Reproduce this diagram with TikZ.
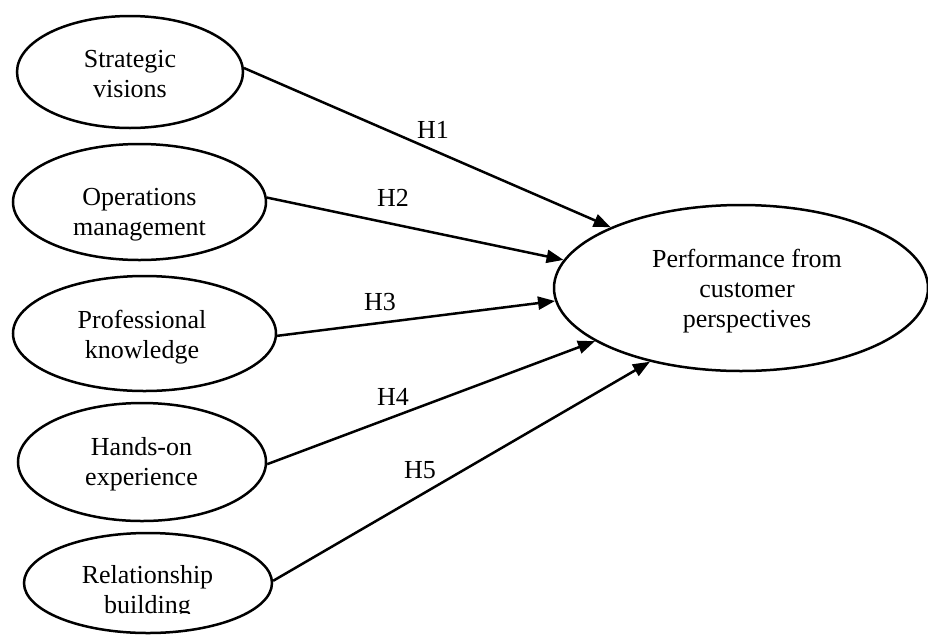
\documentclass[tikz,border=0pt]{standalone}
\usepackage{fontspec}
\setmainfont{Liberation Serif}
\usetikzlibrary{arrows.meta,shapes.geometric}
\begin{document}
\begin{tikzpicture}[x=1pt,y=-1pt,
  latent/.style={ellipse, draw, line width=2.5pt, inner sep=0pt},
  lbl/.style={align=center, inner sep=0pt, font=\fontsize{26}{30}\selectfont},
  hyp/.style={inner sep=0pt, font=\fontsize{26}{30}\selectfont},
  link/.style={line width=2.5pt, -{Triangle[length=17pt,width=13pt]}}]
\useasboundingbox (0,0) rectangle (928,635);
% latent variables
\node[latent, minimum width=226pt, minimum height=112pt] (sv) at (130,72) {};
\node[latent, minimum width=253pt, minimum height=116pt] (om) at (139.5,202) {};
\node[latent, minimum width=263pt, minimum height=115pt] (pk) at (144.5,333.5) {};
\node[latent, minimum width=248pt, minimum height=118pt] (he) at (142,462) {};
\node[latent, minimum width=248pt, minimum height=100pt] (rb) at (148,583) {};
\node[latent, minimum width=374pt, minimum height=166pt] (perf) at (741,288) {};
% texts
\node[lbl] (svt) at (130,76) {\strut Strategic\\visions\strut};
\node[lbl] (omt) at (139.5,214) {\strut Operations\\management\strut};
\node[lbl] (pkt) at (142,337) {\strut Professional\\knowledge\strut};
\node[lbl] (het) at (141.5,464) {\strut Hands-on\\experience\strut};
\begin{scope}
\clip (0,0) rectangle (928,613);
\node[lbl] (rbt) at (147.5,592) {\strut Relationship\\building\strut};
\end{scope}
\node[lbl] (perft) at (747,291) {\strut Performance from\\customer\\perspectives\strut};
% hypotheses
\draw[link] (sv.2) -- (perf.155.9);
\draw[link] (om.2) -- (perf.171.7);
\draw[link] (pk.-1.5) -- (perf.184.6);
\draw[link] (he.-1.5) -- (perf.200.6);
\draw[link] (rb.1.5) -- (perf.219.5);
\node[hyp] (h1) at (433,130) {H1};
\node[hyp] (h2) at (393,198) {H2};
\node[hyp] (h3) at (380,302) {H3};
\node[hyp] (h4) at (393,397) {H4};
\node[hyp] (h5) at (420,470) {H5};
\end{tikzpicture}
\end{document}
